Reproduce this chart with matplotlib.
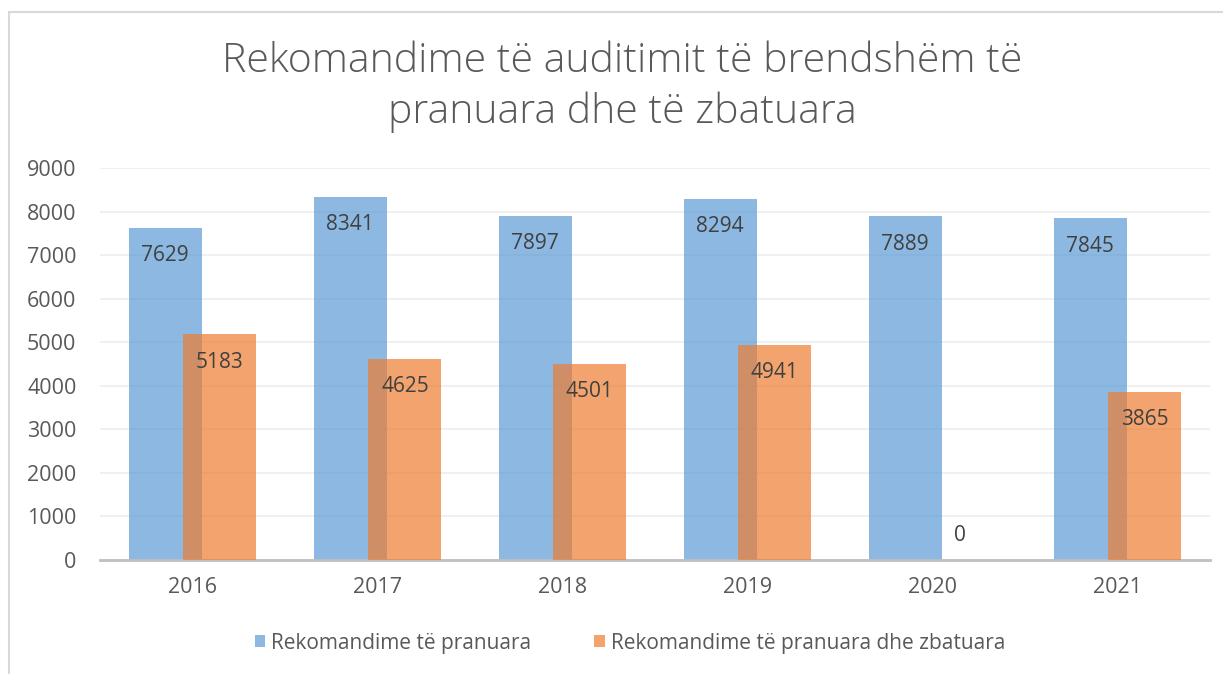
import matplotlib
matplotlib.use("Agg")
import matplotlib.pyplot as plt
from matplotlib.patches import Rectangle
import numpy as np

plt.rcParams['font.family'] = ['Open Sans', 'DejaVu Sans']

# data
years = ["2016", "2017", "2018", "2019", "2020", "2021"]
pranuara = [7629, 8341, 7897, 8294, 7889, 7845]
zbatuara = [5183, 4625, 4501, 4941, 0, 3865]
series_names = ["Rekomandime të pranuara", "Rekomandime të pranuara dhe zbatuara"]
title = "Rekomandime të auditimit të brendshëm të\npranuara dhe të zbatuara"

blue = "#5B9BD5"
orange = "#ED7D31"
text_col = "#595959"

fig = plt.figure(figsize=(12.23, 6.74), dpi=100)
ax = fig.add_axes([100/1223, 1 - 560/674, 1110/1223, 392/674])

x = np.arange(len(years))
w = 0.395
off = 0.148
b1 = ax.bar(x - off, pranuara, w, color=blue, alpha=0.7, label=series_names[0], zorder=2)
b2 = ax.bar(x + off, zbatuara, w, color=orange, alpha=0.7, label=series_names[1], zorder=3)

for rect, v in zip(b1, pranuara):
    ax.annotate(str(v), (rect.get_x() + rect.get_width()/2, v), xytext=(0, -20),
                textcoords="offset points", ha="center", va="center",
                fontsize=15, color="#404040", zorder=5)
for rect, v in zip(b2, zbatuara):
    ax.annotate(str(v), (rect.get_x() + rect.get_width()/2, v),
                xytext=(0, -20) if v > 0 else (0, 17.5),
                textcoords="offset points", ha="center", va="center",
                fontsize=15, color="#404040", zorder=5)

ax.set_xlim(-0.5, len(years) - 0.5)
ax.set_ylim(0, 9000)
ax.set_yticks(np.arange(0, 9001, 1000))
ax.set_xticks(x)
ax.set_xticklabels(years)
ax.yaxis.grid(True, color="#EDEDED", linewidth=1.2, zorder=0)
ax.set_axisbelow(True)
for s in ["top", "right", "left"]:
    ax.spines[s].set_visible(False)
ax.spines["bottom"].set_color("#BFBFBF")
ax.spines["bottom"].set_linewidth(2)
ax.tick_params(axis="both", length=0, labelsize=15.5, labelcolor=text_col)
ax.tick_params(axis="x", pad=12)
ax.tick_params(axis="y", pad=17)

fig.text(622/1223, 1 - 87/674, title, ha="center", va="center", fontsize=29.5,
         fontweight="light", color=text_col, linespacing=1.3)

leg = fig.legend(handles=[b1, b2], labels=series_names, loc="center",
                 bbox_to_anchor=(630/1223, 1 - 643/674), ncol=2, frameon=False,
                 fontsize=15, handlelength=0.5, handleheight=0.5, handletextpad=0.3,
                 columnspacing=3.0)
for t in leg.get_texts():
    t.set_color(text_col)

fig.patches.append(Rectangle((8.5/1223, -0.1), 1.2, 1 - 11.5/674 + 0.1,
                             transform=fig.transFigure, fill=False,
                             edgecolor="#D9D9D9", linewidth=1.5))

fig.savefig("out.png", dpi=100)
